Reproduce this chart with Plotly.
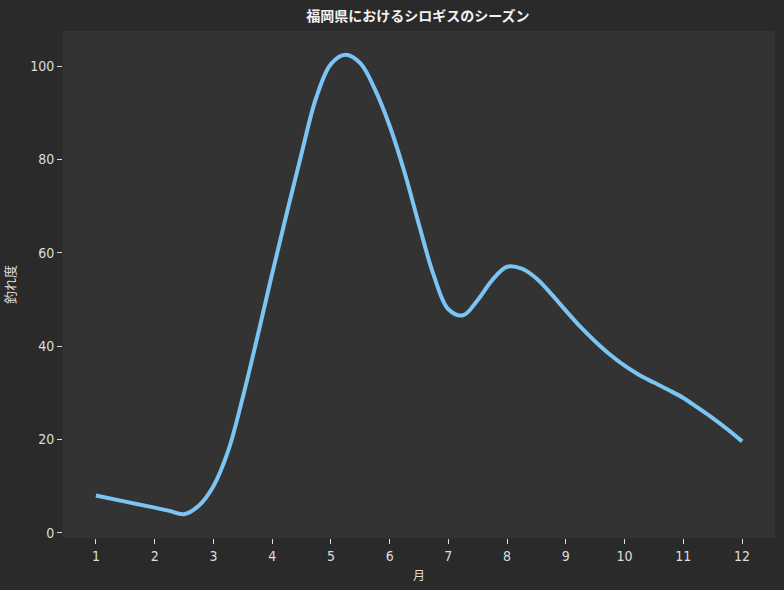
import plotly.graph_objects as go

# Season curve read at quarter-month steps (month, catch level)
months = [1, 1.5, 2, 2.25, 2.5, 2.75, 3, 3.25, 3.5, 3.75, 4, 4.25, 4.5, 4.75, 5, 5.25, 5.5, 5.75,
          6, 6.25, 6.5, 6.75, 7, 7.25, 7.5, 7.75, 8, 8.25, 8.5, 8.75, 9, 9.25, 9.5, 9.75,
          10, 10.25, 10.5, 10.75, 11, 11.25, 11.5, 11.75, 12]
catch_level = [8, 6.7, 5.4, 4.7, 4.0, 5.8, 10, 17.5, 29, 42, 55.5, 68.5, 81.2, 93.2, 100.4, 102.4, 100.6, 95,
               87.2, 77.4, 66, 55.2, 47.9, 46.6, 49.9, 54.2, 57, 56.6, 54.5, 51.2, 47.6, 44.1, 41, 38.2,
               35.8, 33.8, 32.2, 30.6, 28.9, 26.8, 24.6, 22.2, 19.6]

tick_vals = list(range(1, 13))
tick_text = [str(m) for m in tick_vals]

title_text = "福岡県におけるシロギスのシーズン"
x_title = "月"
y_title = "釣れ度"

FONT = "Noto Sans CJK JP"
NUMFONT = "Liberation Sans Narrow, DejaVu Sans Condensed, Noto Sans CJK JP"
TXT = "#dddddd"

fig = go.Figure()
fig.add_trace(go.Scatter(
    x=months, y=catch_level, mode="lines",
    line=dict(color="#7cc4f4", width=4, shape="spline", smoothing=1.0),
    hoverinfo="x+y", showlegend=False,
))

fig.update_layout(
    width=784, height=590,
    paper_bgcolor="#2a2a2a", plot_bgcolor="#333333",
    margin=dict(l=61, r=9, t=31, b=52),
    font=dict(family=FONT, color=TXT, size=12),
    title=dict(text="<b>" + title_text + "</b>", x=0.533, xanchor="center", y=0.972, yanchor="middle",
               font=dict(family=FONT, size=14, color="#f2f2f2")),
    xaxis=dict(
        title=dict(text=x_title, font=dict(size=12, color=TXT), standoff=8),
        range=[0.44, 12.56], tickvals=tick_vals, ticktext=tick_text,
        showgrid=False, zeroline=False, showline=False,
        ticks="outside", ticklen=5, tickwidth=1, tickcolor=TXT,
        tickfont=dict(family=NUMFONT, size=14, color=TXT),
    ),
    yaxis=dict(
        title=dict(text=y_title, font=dict(size=13, color=TXT), standoff=12),
        range=[-1.1, 107.5], tickvals=[0, 20, 40, 60, 80, 100],
        showgrid=False, zeroline=False, showline=False,
        ticks="outside", ticklen=5, tickwidth=1, tickcolor=TXT,
        tickfont=dict(family=NUMFONT, size=14, color=TXT),
    ),
)

fig.write_html("out.html", config={"displayModeBar": False})

# remove the default page margin so the figure sits at the window's top-left corner
with open("out.html", "r", encoding="utf-8") as f:
    html = f.read()
html = html.replace("<head>", "<head><style>html,body{margin:0;padding:0;background:#2a2a2a;overflow:hidden;}</style>", 1)
with open("out.html", "w", encoding="utf-8") as f:
    f.write(html)
